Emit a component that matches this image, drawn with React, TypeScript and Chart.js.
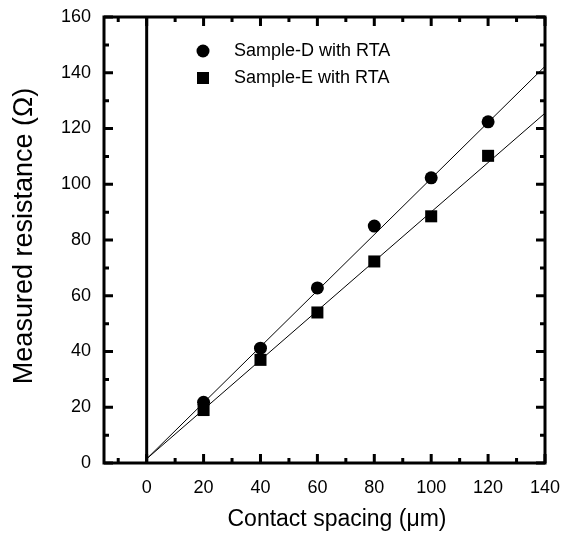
import React, { useEffect, useRef } from "react";
import { Chart, registerables } from "chart.js";

Chart.register(...registerables);

const spacing = [20, 40, 60, 80, 100, 120];
const sampleD = [21.8, 41.2, 62.8, 85, 102.3, 122.4];
const sampleE = [19, 37, 54, 72.3, 88.5, 110.2];
const fitX = [0, 140];
const fitD = [1.5, 142.3];
const fitE = [1.5, 125.5];

const xMajorTicks = [0, 20, 40, 60, 80, 100, 120, 140];
const xMinorTicks = [-10, 10, 30, 50, 70, 90, 110, 130];
const yMajorTicks = [0, 20, 40, 60, 80, 100, 120, 140, 160];
const yMinorTicks = [10, 30, 50, 70, 90, 110, 130, 150];

const legendLabels = ["Sample-D with RTA", "Sample-E with RTA"];
const xTitle = "Contact spacing (\u03bcm)";
const yTitle = "Measured resistance (\u03a9)";

const FONT = '"Liberation Sans", Arial, Helvetica, sans-serif';

const framePlugin = {
  id: "framePlugin",
  afterDatasetsDraw(chart: any) {
    const { ctx, chartArea, scales } = chart;
    const xs = scales.x;
    const ys = scales.y;
    const { left, right, top, bottom } = chartArea;
    ctx.save();
    ctx.strokeStyle = "#000";
    ctx.fillStyle = "#000";
    ctx.lineCap = "butt";
    // zero line
    ctx.lineWidth = 3;
    const x0 = xs.getPixelForValue(0);
    ctx.beginPath();
    ctx.moveTo(x0, top);
    ctx.lineTo(x0, bottom);
    ctx.stroke();
    // ticks
    const major = 9;
    const minor = 5;
    ctx.lineWidth = 3;
    const drawX = (vals: number[], len: number) => {
      vals.forEach((v) => {
        const px = xs.getPixelForValue(v);
        ctx.beginPath();
        ctx.moveTo(px, bottom);
        ctx.lineTo(px, bottom - len);
        ctx.moveTo(px, top);
        ctx.lineTo(px, top + len);
        ctx.stroke();
      });
    };
    const drawY = (vals: number[], len: number) => {
      vals.forEach((v) => {
        const py = ys.getPixelForValue(v);
        ctx.beginPath();
        ctx.moveTo(left, py);
        ctx.lineTo(left + len, py);
        ctx.moveTo(right, py);
        ctx.lineTo(right - len, py);
        ctx.stroke();
      });
    };
    drawX(xMajorTicks, major);
    drawX(xMinorTicks, minor);
    drawY(yMajorTicks, major);
    drawY(yMinorTicks, minor);
    // frame
    ctx.lineWidth = 3;
    ctx.strokeRect(left, top, right - left, bottom - top);

    // tick labels
    ctx.font = `18px ${FONT}`;
    ctx.textBaseline = "middle";
    ctx.textAlign = "center";
    xMajorTicks.forEach((v) => {
      ctx.fillText(String(v), xs.getPixelForValue(v), bottom + 25);
    });
    ctx.textAlign = "right";
    yMajorTicks.forEach((v) => {
      ctx.fillText(String(v), left - 13, ys.getPixelForValue(v));
    });

    // legend
    ctx.textAlign = "left";
    const lx = left + 99;
    const ly1 = top + 34;
    const ly2 = top + 61;
    ctx.beginPath();
    ctx.arc(lx, ly1, 6.5, 0, Math.PI * 2);
    ctx.fill();
    ctx.fillRect(lx - 6, ly2 - 6, 12, 12);
    ctx.fillText(legendLabels[0], left + 130, ly1);
    ctx.fillText(legendLabels[1], left + 130, ly2);

    // axis titles
    ctx.font = `23px ${FONT}`;
    ctx.textAlign = "center";
    ctx.fillText(xTitle, 337, 520);
    ctx.save();
    ctx.font = `27px ${FONT}`;
    ctx.translate(25, 236);
    ctx.rotate(-Math.PI / 2);
    ctx.fillText(yTitle, 0, 0);
    ctx.restore();
    ctx.restore();
  },
};

export default function App() {
  const ref = useRef<HTMLCanvasElement | null>(null);
  useEffect(() => {
    document.body.style.margin = "0";
    const canvas = ref.current;
    if (!canvas) return;
    const toPts = (xs: number[], ys: number[]) => xs.map((x, i) => ({ x, y: ys[i] }));
    const chart = new Chart(canvas, {
      type: "scatter",
      data: {
        datasets: [
          {
            label: "fitD",
            data: toPts(fitX, fitD),
            showLine: true,
            borderColor: "#000",
            borderWidth: 1,
            pointRadius: 0,
            fill: false,
          },
          {
            label: "fitE",
            data: toPts(fitX, fitE),
            showLine: true,
            borderColor: "#000",
            borderWidth: 1,
            pointRadius: 0,
            fill: false,
          },
          {
            label: legendLabels[0],
            data: toPts(spacing, sampleD),
            pointStyle: "circle",
            pointRadius: 6.5,
            backgroundColor: "#000",
            borderColor: "#000",
            borderWidth: 0,
          },
          {
            label: legendLabels[1],
            data: toPts(spacing, sampleE),
            pointStyle: "rect",
            pointRadius: 8.5,
            backgroundColor: "#000",
            borderColor: "#000",
            borderWidth: 0,
          },
        ],
      },
      options: {
        responsive: false,
        animation: false,
        layout: { padding: { left: 0, top: 17, right: 22, bottom: 0 } },
        plugins: {
          legend: { display: false },
          tooltip: { enabled: false },
        },
        scales: {
          x: {
            type: "linear",
            min: -15,
            max: 140,
            grid: { display: false, drawTicks: false },
            border: { display: false },
            afterFit: (scale: any) => {
              scale.height = 76;
            },
            ticks: { display: false },
          },
          y: {
            type: "linear",
            min: 0,
            max: 160,
            grid: { display: false, drawTicks: false },
            border: { display: false },
            afterFit: (scale: any) => {
              scale.width = 104;
            },
            ticks: { display: false },
          },
        },
      },
      plugins: [framePlugin],
    });
    return () => chart.destroy();
  }, []);
  return (
    <div style={{ width: 567, height: 539, background: "#fff" }}>
      <canvas ref={ref} width={567} height={539} style={{ display: "block" }} />
    </div>
  );
}
